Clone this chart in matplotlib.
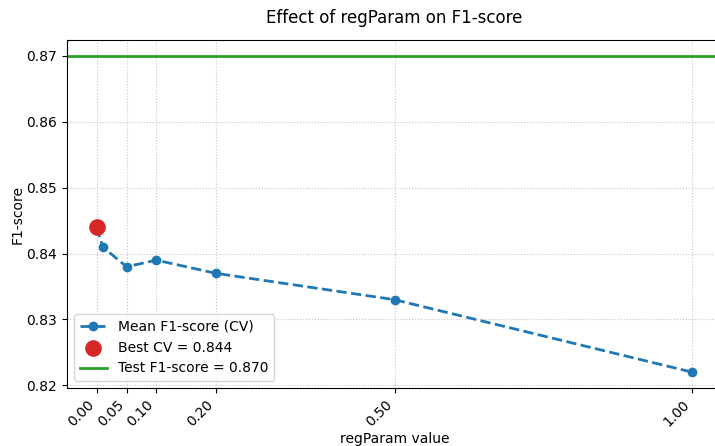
import matplotlib
matplotlib.use("Agg")
import matplotlib.pyplot as plt

reg_params = [0.0, 0.01, 0.05, 0.1, 0.2, 0.5, 1.0]
mean_f1 = [0.844, 0.841, 0.838, 0.839, 0.837, 0.833, 0.822]
best_param = 0.0
best_f1 = 0.844
test_f1 = 0.870
xticks = [0.0, 0.05, 0.1, 0.2, 0.5, 1.0]

fig = plt.figure(figsize=(7.15, 4.46), dpi=100)
ax = fig.add_axes([67/715, (446-388)/446, 655/715, 348/446])
ax.plot(reg_params, mean_f1, marker='o', linestyle='--', linewidth=2,
        color='#1f77b4', label='Mean F1-score (CV)')
ax.scatter([best_param], [best_f1], s=120, color='#d62728', zorder=5,
           label=f'Best CV = {best_f1:.3f}')
ax.axhline(test_f1, color='#2ca02c', linewidth=2, label=f'Test F1-score = {test_f1:.3f}')
ax.set_xticks(xticks)
ax.set_xticklabels([f'{v:.2f}' for v in xticks], rotation=45, ha='right')
ax.set_xlim(-0.05, 1.05)
ax.set_xlabel('regParam value', labelpad=2)
ax.set_ylabel('F1-score', labelpad=1)
ax.set_title('Effect of regParam on F1-score', fontsize=12, pad=12)
ax.grid(True, linestyle=':', alpha=0.7)
ax.legend(loc='lower left')
fig.savefig('out.png', dpi=100)
